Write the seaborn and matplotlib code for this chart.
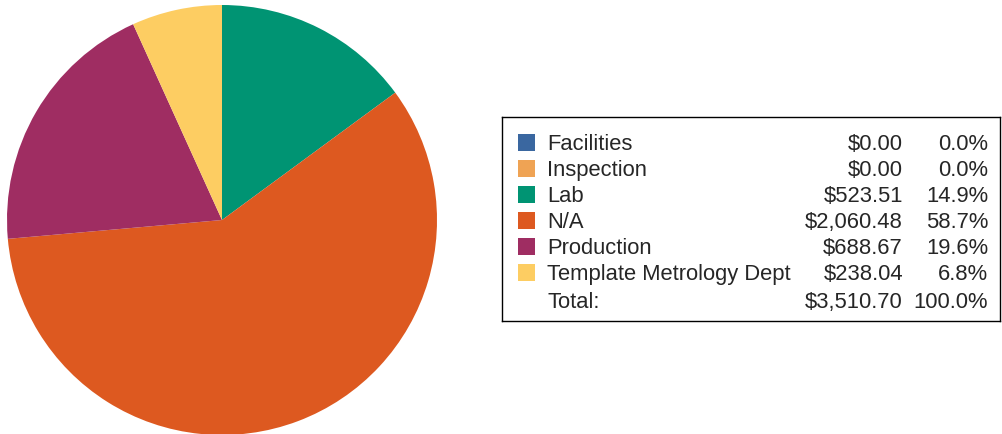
import matplotlib
matplotlib.use("Agg")
import matplotlib.pyplot as plt
import matplotlib.patches as mpatches
import seaborn as sns

#%% Data
departments = ['Facilities', 'Inspection', 'Lab', 'N/A', 'Production', 'Template Metrology Dept']
costs = [0.00, 0.00, 523.51, 2060.48, 688.67, 238.04]
colors = ['#3a67a0', '#efa354', '#009473', '#dd5920', '#9f2d62', '#fdcd62']

total = sum(costs)

#%% Figure
sns.set_style("white")
plt.rcParams['font.family'] = ['Liberation Sans', 'DejaVu Sans']

W, H = 1002, 434
fig = plt.figure(figsize=(W / 100, H / 100), dpi=100)

def px_axes(x0, y0, x1, y1):
    ''' axes from pixel box (top-left origin) '''
    return fig.add_axes([x0 / W, (H - y1) / H, (x1 - x0) / W, (y1 - y0) / H])

# Pie
ax = px_axes(7, 5, 437, 435)
ax.pie(costs, colors=colors, startangle=90, counterclock=False, radius=1,
       wedgeprops=dict(linewidth=0))
ax.set_xlim(-1, 1)
ax.set_ylim(-1, 1)
ax.set_aspect('equal')
ax.axis('off')

# Legend box
lx0, ly0, lx1, ly1 = 502, 117, 1000, 321
lax = px_axes(lx0, ly0, lx1, ly1)
lax.set_xlim(lx0, lx1)
lax.set_ylim(ly1, ly0)
lax.set_xticks([])
lax.set_yticks([])
for s in lax.spines.values():
    s.set_color('black')
    s.set_linewidth(1.0)

fs = 15.8
base = 150
step = 26
for name, cost, col in zip(departments, costs, colors):
    lax.add_patch(mpatches.Rectangle((518, base - 16.3), 17, 17, color=col, lw=0))
    lax.text(547, base, name, fontsize=fs, va='baseline', ha='left')
    lax.text(903, base, f"${cost:,.2f}", fontsize=fs, va='baseline', ha='right')
    lax.text(988, base, f"{cost / total * 100:.1f}%", fontsize=fs, va='baseline', ha='right')
    base += step

base += 2
lax.text(547, base, 'Total:', fontsize=fs, va='baseline', ha='left')
lax.text(903, base, f"${total:,.2f}", fontsize=fs, va='baseline', ha='right')
lax.text(988, base, "100.0%", fontsize=fs, va='baseline', ha='right')

fig.savefig('out.png', dpi=100)
